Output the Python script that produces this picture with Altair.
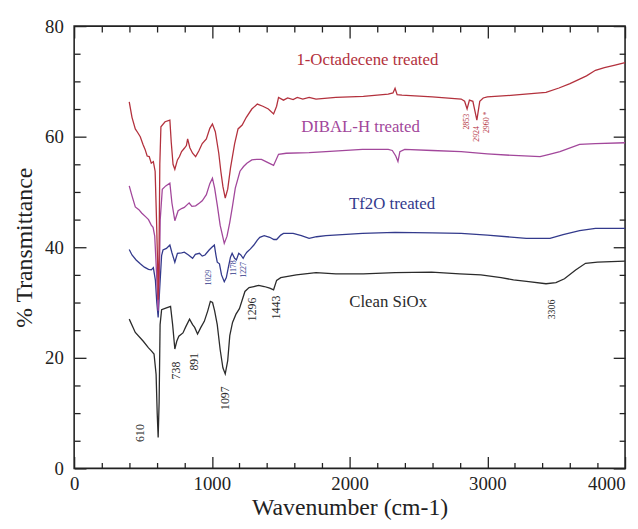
import altair as alt
import pandas as pd

# ---------------- data ----------------
clean_x = [400, 444, 502, 540, 559, 580, 595, 603, 610, 617, 624, 635, 665, 700, 715, 731, 745, 760, 790, 810,
           838, 860, 875, 896, 920, 945, 970, 989, 1005, 1020, 1039, 1060, 1080, 1097, 1115, 1130, 1150, 1175,
           1200, 1240, 1270, 1305, 1340, 1380, 1420, 1448, 1470, 1500, 1613, 1756, 1900, 2100, 2330, 2595, 2800,
           2953, 3100, 3190, 3300, 3426, 3498, 3560, 3641, 3713, 3800, 3900, 4000]
clean_y = [27.0, 24.6, 23.0, 21.8, 21.3, 20.7, 17.0, 10.0, 5.6, 12.0, 26.0, 28.7, 29.0, 29.3, 26.0, 21.6, 23.0,
           23.9, 24.5, 25.6, 27.0, 26.0, 25.5, 24.3, 25.5, 26.6, 28.5, 30.2, 30.0, 28.5, 26.0, 21.5, 18.2, 17.1,
           19.5, 24.0, 26.4, 27.9, 28.9, 32.0, 32.7, 32.9, 33.1, 32.9, 32.6, 32.3, 34.0, 34.5, 35.0, 35.4, 35.2,
           35.2, 35.4, 35.5, 35.2, 35.0, 34.5, 34.1, 33.8, 33.4, 33.6, 34.3, 35.9, 37.1, 37.3, 37.4, 37.5]

tf2o_x = [400, 420, 450, 480, 510, 540, 560, 575, 590, 600, 610, 620, 635, 645, 670, 695, 710, 731, 750, 780,
          800, 830, 860, 880, 910, 930, 950, 980, 1000, 1018, 1030, 1039, 1055, 1070, 1090, 1105, 1120, 1135,
          1147, 1165, 1178, 1195, 1210, 1227, 1240, 1254, 1280, 1305, 1330, 1348, 1380, 1420, 1450, 1470, 1500,
          1520, 1590, 1650, 1706, 1760, 1828, 2093, 2330, 2600, 2810, 3000, 3283, 3455, 3550, 3670, 3785, 4000]
tf2o_y = [39.6, 38.6, 37.7, 37.0, 36.4, 36.0, 35.9, 36.3, 34.0, 30.0, 27.3, 32.0, 38.5, 39.5, 39.8, 40.4, 39.0,
          37.3, 38.9, 39.0, 39.1, 38.6, 38.0, 38.7, 38.9, 38.4, 38.6, 39.5, 40.0, 40.4, 38.5, 37.3, 37.0, 35.0,
          33.75, 34.5, 36.4, 38.2, 38.9, 38.0, 37.7, 38.9, 38.6, 38.0, 38.6, 39.1, 39.7, 40.4, 41.3, 41.8, 42.1,
          41.8, 41.4, 41.4, 42.2, 42.5, 42.5, 42.1, 41.6, 41.9, 42.1, 42.5, 42.7, 42.6, 42.5, 42.2, 41.6, 41.6,
          42.3, 43.0, 43.4, 43.4]

dibal_x = [400, 420, 444, 470, 490, 520, 540, 560, 573, 585, 597, 610, 618, 625, 640, 665, 695, 710, 731, 755,
           780, 800, 825, 835, 855, 882, 910, 930, 960, 985, 1004, 1020, 1040, 1060, 1090, 1110, 1130, 1150, 1170,
           1204, 1230, 1254, 1290, 1326, 1360, 1400, 1448, 1484, 1540, 1706, 1828, 2093, 2280, 2310, 2335, 2351,
           2365, 2400, 2600, 2810, 3000, 3190, 3383, 3450, 3527, 3670, 3785, 4000]
dibal_y = [51.1, 49.3, 47.3, 46.8, 46.2, 45.5, 45.0, 44.0, 43.6, 42.0, 36.0, 28.5, 34.0, 45.0, 50.5, 51.1, 51.6,
           48.0, 44.8, 46.6, 47.0, 47.2, 47.8, 48.0, 47.4, 47.5, 48.0, 48.4, 49.5, 51.5, 52.5, 50.7, 47.5, 44.0,
           40.7, 42.0, 44.5, 47.5, 50.7, 53.75, 54.6, 55.2, 55.8, 55.9, 55.9, 55.4, 54.8, 56.8, 57.0, 57.1, 57.3,
           57.7, 57.7, 57.5, 56.5, 55.5, 57.3, 57.7, 57.5, 57.3, 56.9, 56.6, 56.4, 56.8, 57.3, 58.6, 58.75, 58.9]

octa_x = [400, 420, 444, 460, 480, 500, 515, 530, 545, 560, 575, 588, 598, 605, 610, 616, 622, 630, 660, 695,
          705, 718, 731, 750, 765, 780, 800, 815, 824, 840, 860, 882, 905, 930, 960, 985, 1004, 1025, 1050, 1065,
          1080, 1097, 1115, 1135, 1165, 1190, 1220, 1250, 1290, 1330, 1370, 1410, 1448, 1470, 1484, 1520, 1550,
          1590, 1620, 1660, 1706, 1756, 1900, 2100, 2280, 2315, 2330, 2345, 2380, 2600, 2810, 2835, 2853, 2870,
          2895, 2924, 2945, 2970, 3000, 3190, 3426, 3520, 3600, 3670, 3720, 3785, 3850, 3920, 4000]
octa_y = [66.3, 63.5, 61.4, 60.8, 60.0, 58.6, 57.7, 56.5, 56.4, 55.2, 55.5, 53.75, 45.0, 38.0, 30.5, 38.0, 55.0,
          61.8, 62.7, 63.0, 59.0, 55.0, 54.1, 55.8, 56.4, 57.3, 57.9, 58.4, 59.6, 58.0, 57.0, 56.4, 57.4, 58.75,
          59.6, 61.5, 62.3, 60.9, 57.0, 53.75, 51.0, 48.9, 50.5, 54.3, 58.7, 61.4, 62.1, 63.5, 65.0, 65.9, 65.5,
          65.0, 64.1, 65.5, 67.1, 66.6, 67.0, 66.7, 67.1, 66.8, 67.1, 66.8, 67.1, 67.3, 67.7, 67.9, 68.75, 67.6,
          67.5, 67.2, 66.8, 66.4, 65.0, 66.6, 66.4, 63.0, 66.4, 67.0, 67.2, 67.5, 68.0, 68.8, 69.6, 70.4, 71.0,
          72.0, 72.5, 72.9, 73.4]

series_names = ["Clean SiOx", "Tf2O treated", "DIBAL-H treated", "1-Octadecene treated"]
series_colors = ["#2b2b2b", "#333a8c", "#a2479b", "#b3313d"]

label_x = [2280, 2308, 2079, 2129]
label_y = [30.0, 47.9, 61.8, 73.9]

peak_text = ["610", "738", "891", "1097", "1296", "1443", "3306",
             "1029", "1178", "1227", "2853", "2924", "2960 *"]
peak_x = [480, 738, 874, 1097, 1290, 1469, 3469, 982, 1161, 1233, 2853, 2924, 2996]
peak_y = [6.4, 17.7, 19.3, 12.7, 28.75, 29.1, 28.75, 34.5, 36.25, 35.9, 62.7, 60.5, 62.6]
peak_series = ["Clean SiOx"] * 7 + ["Tf2O treated"] * 3 + ["1-Octadecene treated"] * 3
peak_size = [12, 12, 12, 12, 12, 12, 10, 8, 8, 8, 8, 8, 8]

x_major = [0, 1000, 2000, 3000, 4000]
x_minor = [200, 400, 600, 800, 1200, 1400, 1600, 1800, 2200, 2400, 2600, 2800, 3200, 3400, 3600, 3800]
y_major = [0, 20, 40, 60, 80]
y_minor = [5, 10, 15, 25, 30, 35, 45, 50, 55, 65, 70, 75]

# ---------------- build ----------------
W, H = 558, 448
X_MAX, Y_MAX = 4000, 80
FONT = "Liberation Serif"
INK = "#222222"

frames = []
for name, xs, ys in [("Clean SiOx", clean_x, clean_y), ("Tf2O treated", tf2o_x, tf2o_y),
                     ("DIBAL-H treated", dibal_x, dibal_y), ("1-Octadecene treated", octa_x, octa_y)]:
    frames.append(pd.DataFrame({"wn": xs, "t": ys, "series": name, "k": range(len(xs))}))
lines_df = pd.concat(frames, ignore_index=True)

labels_df = pd.DataFrame({"wn": label_x, "t": label_y, "series": series_names, "txt": series_names})
peaks_df = pd.DataFrame({"wn": peak_x, "t": peak_y, "series": peak_series, "txt": peak_text, "fs": peak_size})

xscale = alt.Scale(domain=[0, X_MAX], nice=False, zero=False)
yscale = alt.Scale(domain=[0, Y_MAX], nice=False, zero=False)
cscale = alt.Scale(domain=series_names, range=series_colors)


def tick_axis(orient, values, size):
    # an axis that only draws ticks, shifted inside the frame so they point inward
    return alt.Axis(orient=orient, values=values, ticks=True, tickSize=size, offset=-size,
                    tickColor=INK, tickWidth=1.3, labels=False, domain=False, grid=False, title=None)


xaxis_main = alt.Axis(orient="bottom", values=x_major, ticks=True, tickSize=12, offset=-12,
                      tickColor=INK, tickWidth=1.3, grid=False, domain=False, format="d",
                      labelFont=FONT, labelFontSize=19, labelColor=INK, labelPadding=6,
                      labelAlign={"condition": {"test": "datum.value == 4000", "value": "right"},
                                  "value": "center"},
                      title="Wavenumber (cm-1)", titleFont=FONT, titleFontSize=24, titleFontWeight="normal",
                      titleColor=INK, titlePadding=3)
yaxis_main = alt.Axis(orient="left", values=y_major, ticks=True, tickSize=12, offset=-12,
                      tickColor=INK, tickWidth=1.3, grid=False, domain=False, format="d",
                      labelFont=FONT, labelFontSize=19, labelColor=INK, labelPadding=11,
                      title="% Transmittance", titleFont=FONT, titleFontSize=24, titleFontWeight="normal",
                      titleColor=INK, titlePadding=8)

lines = alt.Chart(lines_df).mark_line(strokeWidth=1.3, interpolate="linear").encode(
    x=alt.X("wn", type="quantitative", scale=xscale, axis=xaxis_main),
    y=alt.Y("t", type="quantitative", scale=yscale, axis=yaxis_main),
    color=alt.Color("series:N", scale=cscale, legend=None),
    detail="series:N", order="k:Q",
)

labels = alt.Chart(labels_df).mark_text(font=FONT, fontSize=17).encode(
    x=alt.X("wn", type="quantitative", scale=xscale, axis=tick_axis("top", x_major, 12)),
    y=alt.Y("t", type="quantitative", scale=yscale, axis=tick_axis("right", y_major, 12)),
    text="txt:N",
    color=alt.Color("series:N", scale=cscale, legend=None),
)

peaks = alt.Chart(peaks_df).mark_text(font=FONT, angle=270).encode(
    x=alt.X("wn", type="quantitative", scale=xscale, axis=tick_axis("bottom", x_minor, 6)),
    y=alt.Y("t", type="quantitative", scale=yscale, axis=tick_axis("left", y_minor, 6)),
    text="txt:N",
    color=alt.Color("series:N", scale=cscale, legend=None),
    size=alt.Size("fs:Q", scale=None, legend=None),
)

# invisible carrier layer for the remaining minor-tick axes (top and right)
carrier = alt.Chart(labels_df).mark_point(opacity=0).encode(
    x=alt.X("wn", type="quantitative", scale=xscale, axis=tick_axis("top", x_minor, 6)),
    y=alt.Y("t", type="quantitative", scale=yscale, axis=tick_axis("right", y_minor, 6)),
)

chart = alt.layer(lines, labels, peaks, carrier).resolve_axis(
    x="independent", y="independent"
).properties(
    width=W, height=H,
    autosize=alt.AutoSizeParams(type="none"),
    padding={"left": 67, "top": 15, "right": 5, "bottom": 54},
    background="white",
).configure_view(stroke=INK, strokeWidth=1.6)

chart.save("out.html", embed_options={"renderer": "svg", "actions": False})
